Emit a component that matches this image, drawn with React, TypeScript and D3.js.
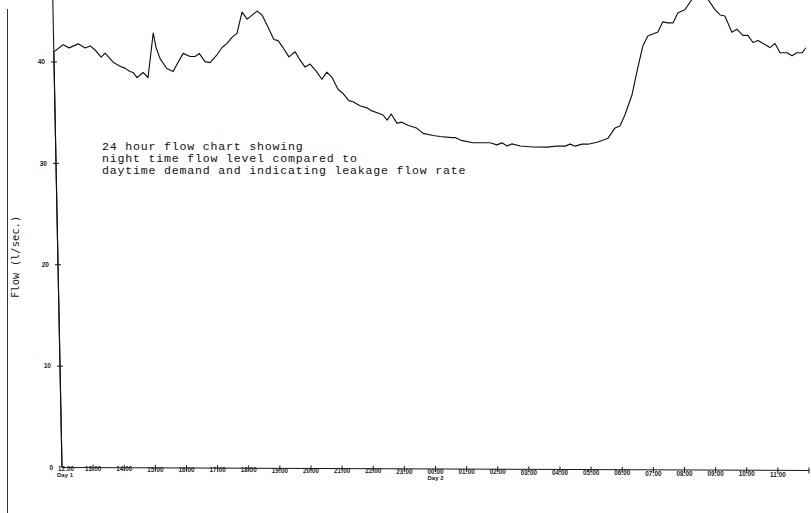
import React from 'react';
import * as d3 from 'd3';

// ---- data (hours after 12:00 Day 1, flow in l/sec) ----
const hours = [
  0, 0, 0.30, 0.49, 0.78, 1.00, 1.16, 1.31, 1.50, 1.63, 1.88, 2.10,
  2.26, 2.41, 2.51, 2.63, 2.83, 2.98, 3.17, 3.25, 3.37, 3.58,
  3.78, 3.94, 4.11, 4.33, 4.49, 4.62, 4.80, 4.96, 5.19, 5.35,
  5.51, 5.67, 5.83, 6.00, 6.16, 6.32, 6.48, 6.64, 6.82, 7.00,
  7.13, 7.29, 7.47, 7.67, 7.82, 7.98, 8.14, 8.33, 8.51, 8.67,
  8.83, 9.02, 9.18, 9.36, 9.49, 9.71, 9.93, 10.09, 10.28, 10.44,
  10.57, 10.70, 10.88, 11.04, 11.23, 11.52, 11.71, 12.03, 12.25, 12.63,
  12.73, 12.95, 13.30, 13.84, 14.06, 14.22, 14.38, 14.54, 14.80, 15.21,
  15.65, 15.97, 16.23, 16.39, 16.55, 16.77, 16.96, 17.25, 17.60, 17.82,
  17.98, 18.14, 18.37, 18.56, 18.72, 18.88, 19.20, 19.36, 19.52, 19.68,
  19.84, 20.06, 20.30, 20.55, 20.80, 21.02, 21.18, 21.33, 21.55, 21.71,
  21.90, 22.06, 22.22, 22.38, 22.54, 22.76, 22.92, 23.08, 23.30, 23.46,
  23.62, 23.78, 23.90,
];
const flows = [
  0, 41.0, 41.7, 41.4, 41.8, 41.4, 41.6, 41.2, 40.5, 40.9, 40.0, 39.6,
  39.4, 39.1, 39.0, 38.5, 39.0, 38.5, 42.9, 41.5, 40.4, 39.4,
  39.1, 40.0, 40.9, 40.6, 40.6, 40.9, 40.1, 40.0, 40.8, 41.5,
  41.9, 42.5, 42.9, 45.0, 44.3, 44.7, 45.1, 44.7, 43.5, 42.3,
  42.2, 41.5, 40.6, 41.1, 40.3, 39.6, 39.9, 39.2, 38.4, 39.1,
  38.6, 37.4, 37.0, 36.3, 36.2, 35.8, 35.6, 35.3, 35.1, 34.9,
  34.4, 35.0, 34.1, 34.2, 33.9, 33.6, 33.1, 32.9, 32.8, 32.7,
  32.7, 32.4, 32.2, 32.2, 32.0, 32.2, 31.9, 32.1, 31.9, 31.8,
  31.8, 31.9, 31.9, 32.1, 31.9, 32.1, 32.1, 32.3, 32.7, 33.7,
  33.9, 35.0, 37.0, 39.7, 41.8, 42.8, 43.2, 44.2, 44.1, 44.1,
  45.1, 45.4, 46.5, 46.9, 46.4, 45.4, 44.9, 44.8, 43.2, 43.5,
  42.9, 42.9, 42.2, 42.4, 42.1, 41.7, 42.1, 41.2, 41.2, 40.9,
  41.2, 41.2, 41.7,
];
const yTicks = [0, 10, 20, 30, 40];
const xTickLabels = [
  '12:00', '13:00', '14:00', '15:00', '16:00', '17:00', '18:00', '19:00',
  '20:00', '21:00', '22:00', '23:00', '00:00', '01:00', '02:00', '03:00',
  '04:00', '05:00', '06:00', '07:00', '08:00', '09:00', '10:00', '11:00',
];
const dayLabels = [
  { hour: 0, text: 'Day 1' },
  { hour: 12, text: 'Day 2' },
];
const yTitle = 'Flow (l/sec.)';
const note = [
  '24 hour flow chart showing',
  'night time flow level compared to',
  'daytime demand and indicating leakage flow rate',
];

// ---- layout ----
const W = 811;
const H = 513;
const X0 = 62;
const X1 = 809;
const Y0 = 467.5;
const Y40 = 62;
const SHEAR_X = 0.0197; // scan skew of the original sheet
const SHEAR_Y = 0.004;

const xs = d3.scaleLinear().domain([0, 24]).range([X0, X1]);
const ys = d3.scaleLinear().domain([0, 40]).range([Y0, Y40]);

function warp(px: number, py: number): [number, number] {
  const f = 1 - (px - X0) / (X1 - X0);
  return [px - SHEAR_X * (Y0 - py) * f, py + SHEAR_Y * (px - X0)];
}
const P = (h: number, v: number) => warp(xs(h), ys(v));

export default function App() {
  const pts: [number, number][] = hours.map((h, i) => [h, flows[i]]);
  const line = d3
    .line<[number, number]>()
    .x((d) => P(d[0], d[1])[0])
    .y((d) => P(d[0], d[1])[1]);

  const yAxisPath = line([[0, 0], [0, 47]]) as string;
  const xAxisPath = line([[0, 0], [24, 0]]) as string;

  const ink = '#161616';
  const titleC = warp(20, 257);

  return (
    <svg
      width={W}
      height={H}
      style={{ position: 'absolute', left: 0, top: 0, background: '#fff' }}
    >
      <rect x={0} y={0} width={W} height={H} fill="#fff" />
      {/* page edge rule */}
      <line x1={7.5} y1={9} x2={7.5} y2={H} stroke="#333" strokeWidth={1} />

      {/* y axis */}
      <path d={yAxisPath} stroke={ink} strokeWidth={1.1} fill="none" />
      {yTicks.map((v) => {
        const [a, b] = warp(xs(0) - 3, ys(v));
        const [c, d] = warp(xs(0) + 3, ys(v));
        const [lx, ly] = warp(xs(0) - 9, ys(v));
        return (
          <g key={'y' + v}>
            {v > 0 && <line x1={a} y1={b} x2={c} y2={d} stroke={ink} strokeWidth={1} />}
            <text
              x={lx}
              y={ly + 2.3}
              textAnchor="end"
              fontFamily="Liberation Sans, Arial, sans-serif"
              fontWeight="bold"
              fontSize={6.5}
              fill="#222"
            >
              {v}
            </text>
          </g>
        );
      })}
      <text
        transform={`translate(${titleC[0]},${titleC[1]}) rotate(-90)`}
        textAnchor="middle"
        fontFamily="DejaVu Sans Mono, monospace"
        fontSize={10.5}
        fill="#222"
        dy={3.5}
      >
        {yTitle}
      </text>

      {/* x axis */}
      <path d={xAxisPath} stroke={ink} strokeWidth={1.1} fill="none" />
      {d3.range(1, 25).map((h) => {
        const [a, b] = warp(xs(h), ys(0) - 3);
        const [c, d] = warp(xs(h), ys(0) + 3);
        return <line key={'xt' + h} x1={a} y1={b} x2={c} y2={d} stroke={ink} strokeWidth={1} />;
      })}
      {xTickLabels.map((t, i) => {
        const [lx, ly] = warp(xs(i) + (i === 0 ? 4 : 0), ys(0));
        return (
          <text
            key={'xl' + i}
            x={lx}
            y={ly + 3.5 + (lx - X0) * 0.004}
            textAnchor="middle"
            fontFamily="Liberation Sans, Arial, sans-serif"
            fontWeight="bold"
            fontSize={6.3}
            fill="#222"
          >
            {t}
          </text>
        );
      })}
      {dayLabels.map((d) => {
        const [lx, ly] = warp(xs(d.hour) + (d.hour === 0 ? 3 : 0), ys(0));
        return (
          <text
            key={d.text}
            x={lx}
            y={ly + 9.5 + (lx - X0) * 0.004}
            textAnchor="middle"
            fontFamily="Liberation Sans, Arial, sans-serif"
            fontWeight="bold"
            fontSize={6}
            fill="#222"
          >
            {d.text}
          </text>
        );
      })}

      {/* flow trace */}
      <path
        d={line(pts) as string}
        stroke="#111"
        strokeWidth={1.15}
        fill="none"
        strokeLinejoin="round"
      />

      {/* annotation */}
      {note.map((t, i) => (
        <text
          key={'n' + i}
          x={102}
          y={149.5 + i * 12.2}
          fontFamily="Liberation Mono, Courier New, monospace"
          fontSize={11.6}
          letterSpacing={0.79}
          fill="#111"
        >
          {t}
        </text>
      ))}
    </svg>
  );
}
